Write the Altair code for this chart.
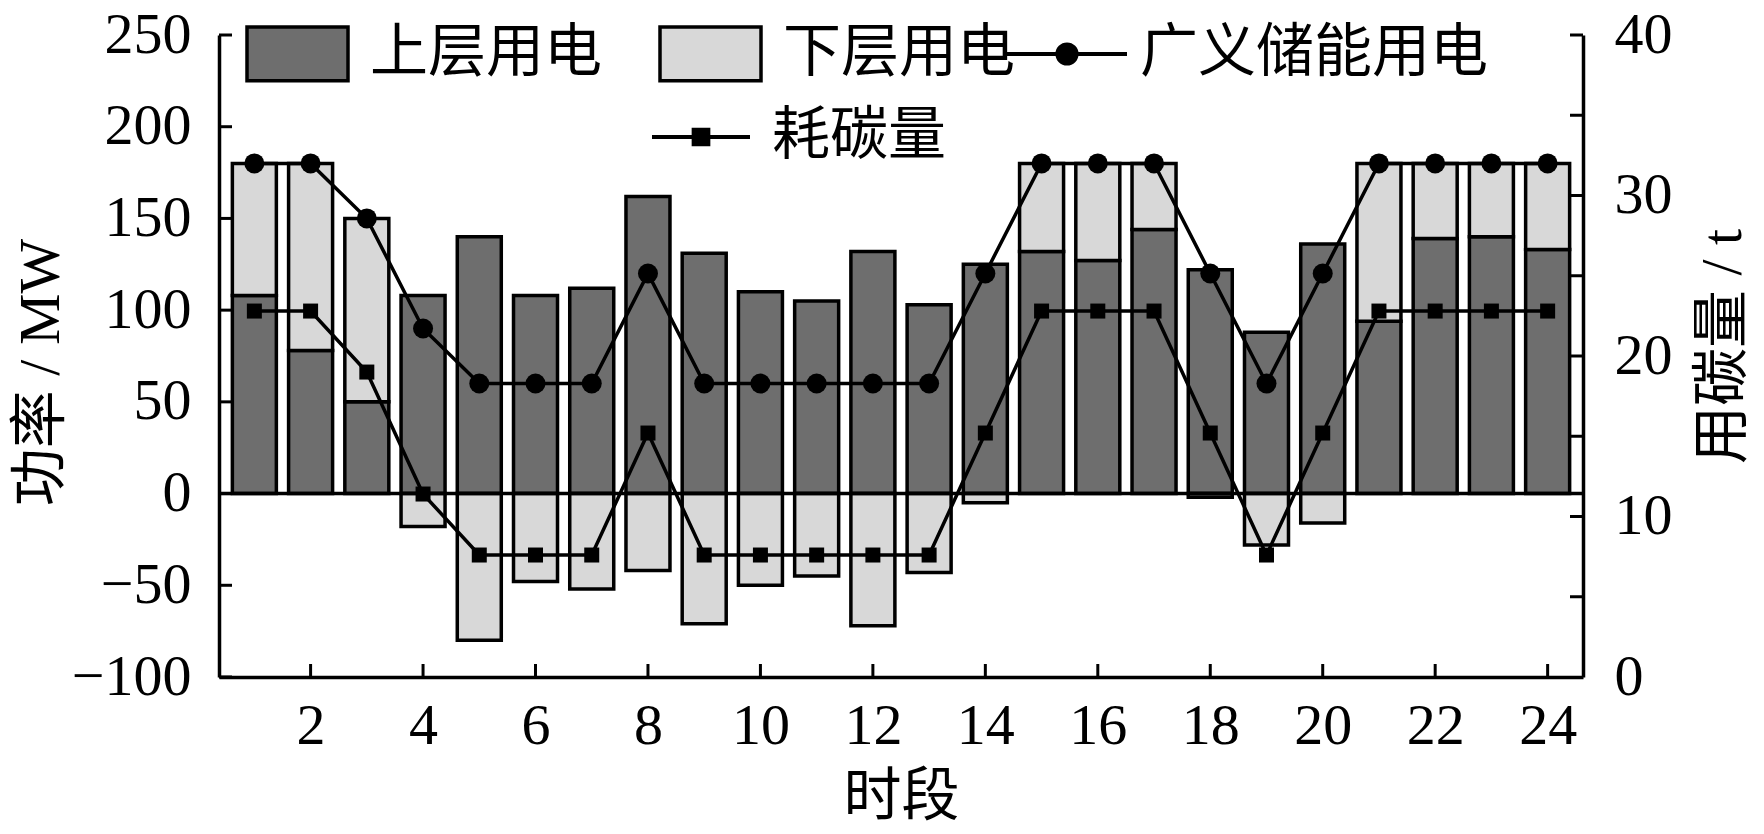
import altair as alt
import pandas as pd

# ---- data ----
hours = list(range(1, 25))
upper = [108, 78, 50, 108, 140, 108, 112, 162, 131, 110, 105, 132,
         103, 125, 132, 127, 144, 122, 88, 136, 94, 139, 140, 133]
lower = [72, 102, 100, -18, -80, -48, -52, -42, -71, -50, -45, -72,
         -43, -5, 48, 53, 36, -2, -28, -16, 86, 41, 40, 47]
storage = [180, 180, 150, 90, 60, 60, 60, 120, 60, 60, 60, 60,
           60, 120, 180, 180, 180, 120, 60, 120, 180, 180, 180, 180]
carbon = [22.8, 22.8, 19.0, 11.4, 7.6, 7.6, 7.6, 15.2, 7.6, 7.6, 7.6, 7.6,
          7.6, 15.2, 22.8, 22.8, 22.8, 15.2, 7.6, 15.2, 22.8, 22.8, 22.8, 22.8]

x_tick_values = list(range(2, 25, 2))
left_tick_values = [-100, -50, 0, 50, 100, 150, 200, 250]
right_label_values = [0, 10, 20, 30, 40]
right_tick_values = [5, 10, 15, 20, 25, 30, 35, 40]

S_UP = "上层用电"
S_LO = "下层用电"
S_ST = "广义储能用电"
S_CA = "耗碳量"

rows = []
for h, u, l in zip(hours, upper, lower):
    rows.append({"hour": h, "series": S_UP, "y0": 0, "y1": u})
    if l >= 0:
        rows.append({"hour": h, "series": S_LO, "y0": u, "y1": u + l})
    else:
        rows.append({"hour": h, "series": S_LO, "y0": 0, "y1": l})
bars_df = pd.DataFrame(rows)
lines_df = pd.DataFrame({"hour": hours, "storage": storage, "carbon": carbon,
                         "s1": S_ST, "s2": S_CA})

W, H = 1364, 642
NUM_FONT = "'Liberation Serif', 'Noto Sans CJK SC'"
CJK_FONT = "'Noto Sans CJK SC'"
FS = 58
LW = 3.5

x_scale = alt.Scale(domain=[0.46, 24.54], nice=False, zero=False)
left_scale = alt.Scale(domain=[-100, 250], nice=False, zero=False)
right_scale = alt.Scale(domain=[0, 40], nice=False, zero=False)

x_axis = alt.Axis(values=x_tick_values, ticks=False, tickSize=0, grid=False,
                  domainColor="black", domainWidth=LW, labelFont=NUM_FONT,
                  labelFontSize=FS, labelColor="black", labelPadding=20,
                  labelFlush=False, title="时段", titleFont=CJK_FONT,
                  titleFontSize=FS, titleFontWeight="normal", titleColor="black",
                  titleX=682, titleY=120, titleAlign="center", titleBaseline="middle")
x_enc = alt.X("hour:Q", scale=x_scale, axis=x_axis)

left_axis = alt.Axis(orient="left", values=left_tick_values, ticks=False, tickSize=0,
                     grid=False, domainColor="black", domainWidth=LW,
                     labelFont=NUM_FONT, labelFontSize=FS, labelColor="black",
                     labelPadding=28, labelFlush=False, labelOverlap=False,
                     title="功率 / MW", titleFont=NUM_FONT, titleFontSize=FS,
                     titleFontWeight="normal", titleColor="black",
                     titleX=-178, titleY=337, titleAngle=-90,
                     titleAlign="center", titleBaseline="middle")
right_axis = alt.Axis(orient="right", values=right_label_values, ticks=False, tickSize=0,
                      grid=False, domainColor="black", domainWidth=LW,
                      labelFont=NUM_FONT, labelFontSize=FS, labelColor="black",
                      labelPadding=31, labelFlush=False, labelOverlap=False,
                      title="用碳量 / t", titleFont=NUM_FONT, titleFontSize=FS,
                      titleFontWeight="normal", titleColor="black",
                      titleX=140, titleY=311, titleAngle=-90,
                      titleAlign="center", titleBaseline="middle")

bar_legend = alt.Legend(orient="none", legendX=26, legendY=-34, title=None,
                        direction="horizontal", padding=0, labelFont=CJK_FONT,
                        labelFontSize=FS, labelColor="black", labelLimit=1000,
                        labelOffset=20, columnPadding=50,
                        symbolType="M-1,-0.53L1,-0.53L1,0.53L-1,0.53Z",
                        symbolSize=10201, symbolStrokeColor="black",
                        symbolStrokeWidth=LW)

st_legend = alt.Legend(orient="none", legendX=786, legendY=-43, title=None,
                       direction="horizontal", padding=0, labelFont=CJK_FONT,
                       labelFontSize=FS, labelColor="black", labelLimit=1000,
                       labelOffset=11,
                       symbolType="M-1,0L1,0M0.16,0A0.16,0.16,0,1,1,-0.16,0A0.16,0.16,0,1,1,0.16,0Z",
                       symbolSize=14400, symbolFillColor="black",
                       symbolStrokeColor="black", symbolStrokeWidth=4)

ca_legend = alt.Legend(orient="none", legendX=431, legendY=51, title=None,
                       direction="horizontal", padding=0, labelFont=CJK_FONT,
                       labelFontSize=FS, labelColor="black", labelLimit=1000,
                       labelOffset=20,
                       symbolType="M-1,0L1,0M-0.15,-0.15L0.15,-0.15L0.15,0.15L-0.15,0.15Z",
                       symbolSize=9604, symbolFillColor="black",
                       symbolStrokeColor="black", symbolStrokeWidth=4)

bars = alt.Chart(bars_df).mark_bar(width=44, stroke="black", strokeWidth=LW).encode(
    x=x_enc,
    y=alt.Y("y0:Q", scale=left_scale, axis=left_axis),
    y2="y1:Q",
    fill=alt.Fill("series:N", scale=alt.Scale(domain=[S_UP, S_LO],
                                              range=["#6e6e6e", "#d8d8d8"]),
                  legend=bar_legend),
)

zero_rule = alt.Chart(pd.DataFrame({"v": [0]})).mark_rule(color="black", strokeWidth=LW).encode(
    y=alt.Y("v:Q", scale=left_scale, axis=None)
)

st_line = alt.Chart(lines_df).mark_line(color="black", strokeWidth=LW).encode(
    x=x_enc, y=alt.Y("storage:Q", scale=left_scale, axis=None),
    opacity=alt.Opacity("s1:N", scale=alt.Scale(domain=[S_ST], range=[1]), legend=st_legend),
)
st_points = alt.Chart(lines_df).mark_point(shape="circle", filled=True, color="black",
                                           size=400, opacity=1).encode(
    x=x_enc, y=alt.Y("storage:Q", scale=left_scale, axis=None),
)

ca_line = alt.Chart(lines_df).mark_line(color="black", strokeWidth=LW).encode(
    x=x_enc, y=alt.Y("carbon:Q", scale=right_scale, axis=right_axis),
    opacity=alt.Opacity("s2:N", scale=alt.Scale(domain=[S_CA], range=[1]), legend=ca_legend),
)
ca_points = alt.Chart(lines_df).mark_point(shape="square", filled=True, color="black",
                                           size=225, opacity=1).encode(
    x=x_enc, y=alt.Y("carbon:Q", scale=right_scale, axis=None),
)

left_ticks = alt.Chart(pd.DataFrame({"v": left_tick_values})).mark_tick(
    orient="horizontal", size=13, thickness=3, color="black", opacity=1).encode(
    y=alt.Y("v:Q", scale=left_scale, axis=None), x=alt.value(6.5)
)
right_ticks = alt.Chart(pd.DataFrame({"v": right_tick_values})).mark_tick(
    orient="horizontal", size=13, thickness=3, color="black", opacity=1).encode(
    y=alt.Y("v:Q", scale=right_scale, axis=None), x=alt.value(W - 6.5)
)
bottom_ticks = alt.Chart(pd.DataFrame({"hour": x_tick_values})).mark_tick(
    orient="vertical", size=13, thickness=3, color="black", opacity=1).encode(
    x=x_enc, y=alt.value(H - 6.5)
)

chart = alt.layer(
    bars, zero_rule, st_line, ca_line, st_points, ca_points,
    left_ticks, right_ticks, bottom_ticks
).resolve_scale(
    y="independent", opacity="independent"
).resolve_legend(
    opacity="independent"
).properties(
    width=W, height=H,
    autosize=alt.AutoSizeParams(type="none"),
    padding={"left": 211, "top": 27, "right": 173, "bottom": 157},
    background="white",
).configure_view(stroke=None)

chart.save("out.html", embed_options={"renderer": "svg", "actions": False})
